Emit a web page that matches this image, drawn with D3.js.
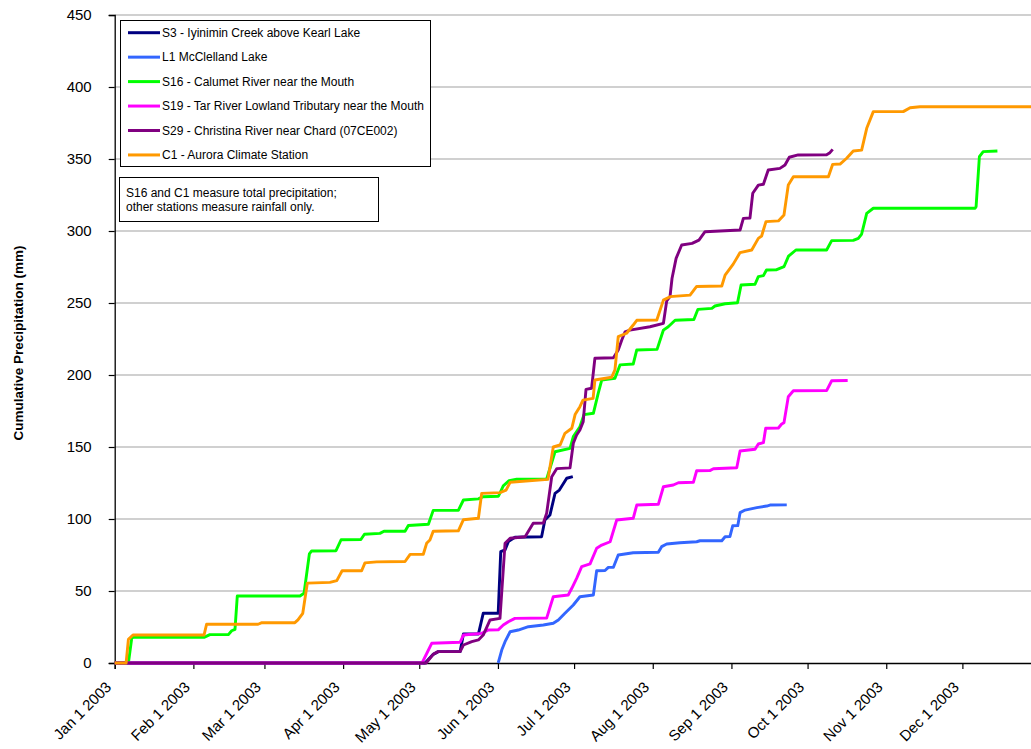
<!DOCTYPE html>
<html><head><meta charset="utf-8">
<script src="https://cdn.jsdelivr.net/npm/d3@7/dist/d3.min.js"></script>
<style>
body{margin:0;background:#fff}
svg{display:block}
text{font-family:"Liberation Sans",Arial,Helvetica,sans-serif;fill:#000}
</style>
</head><body>
<svg id="chart" width="1031" height="749"></svg>
<script>
// ---- data: [day of year 2003 (0 = Jan 1), cumulative precipitation mm]
const yTickValues = [0,50,100,150,200,250,300,350,400,450];
const xTickLabels = ["Jan 1 2003","Feb 1 2003","Mar 1 2003","Apr 1 2003","May 1 2003","Jun 1 2003","Jul 1 2003","Aug 1 2003","Sep 1 2003","Oct 1 2003","Nov 1 2003","Dec 1 2003"];
const seriesNames = ["S3 - Iyinimin Creek above Kearl Lake","L1 McClelland Lake","S16 - Calumet River near the Mouth","S19 - Tar River Lowland Tributary near the Mouth","S29 - Christina River near Chard (07CE002)","C1 - Aurora Climate Station"];
const seriesColors = ["#000080","#3366ff","#00ff00","#ff00ff","#800080","#ff9900"];
const noteLines = ["S16 and C1 measure total precipitation;","other stations measure rainfall only."];

const s3 = [[0,0],[122.3,0],[125.5,6],[127.5,7.9],[136.1,7.9],[137.4,20.1],[143.3,20.1],[145.2,34.5],[151.1,34.5],[152.1,77.3],[153.8,78.5],[155.1,84.3],[157.7,87.3],[168.2,87.7],[169.5,99.3],[171.5,102.8],[173.5,117.8],[175.2,120.1],[178.1,128.3],[180.5,129.4]];
const l1 = [[151.1,0],[152.5,9],[153.8,14.8],[155.8,21.7],[159,22.9],[163,25.2],[168.9,26.4],[172.8,27.6],[174.8,29.9],[177.4,34.5],[180.7,40.3],[183.3,46],[188.6,47.2],[189.9,64.1],[193.2,64.2],[194.5,66.4],[196.5,66.5],[198.4,75],[204.3,76.6],[214.2,76.9],[215.5,80.8],[217.5,82.6],[222.7,83.5],[229.3,84.2],[230.6,84.9],[239.2,84.9],[240.5,87.7],[242.4,87.8],[243.5,95.3],[245.5,95.4],[246.4,104.4],[248.4,106.2],[253,107.9],[256.9,109],[258.2,109.7],[264.8,109.8]];
const s16 = [[0,0],[5.4,0],[6.7,17.1],[7.2,17.8],[35.2,17.8],[37.5,19.7],[44.8,19.7],[46.1,22.4],[47.4,23.4],[48.3,46.5],[73,46.5],[74.6,48.4],[76.7,75.7],[77.6,77.8],[87.2,78],[89.2,85.6],[97,85.8],[98.4,89.4],[104.5,90],[106.1,91.5],[114.4,91.5],[115.7,95.5],[123.6,96.4],[125.5,106],[135.4,106],[137.4,113.2],[143.3,114],[145.2,115.5],[151.2,115.8],[153.1,123],[155.4,126.6],[158.4,127.6],[170.2,127.8],[173.5,146.7],[179.4,149.1],[180.7,157.2],[183.3,164.1],[184.9,172.5],[188.6,173.4],[190.5,187.3],[191.9,196.5],[197.1,197.7],[199.1,207],[204.3,207.6],[205.7,217.4],[213.7,217.8],[216.2,231.2],[218.1,233.5],[220.8,238],[228.2,238.5],[229.8,245.6],[235.3,246.3],[236.5,247.9],[240.5,249.5],[245.4,250.2],[246.8,262.5],[252.3,263],[253.6,268.3],[255.6,269],[256.8,272.9],[260.6,273],[263.7,275.2],[265.5,282.5],[268.4,286.8],[280.5,286.8],[282.5,293.3],[291,293.5],[293,294.9],[294.3,297.9],[296.3,312.3],[298.9,315.8],[339,315.8],[339.4,316.9],[340.7,351.6],[342.2,355.1],[347.8,355.6]];
const s19 = [[0,0],[121.1,0],[124.9,13.7],[136.1,14.4],[137.4,19.4],[144.6,20.6],[147.2,22.9],[151.1,23],[153.1,26.4],[155.1,28.7],[157.7,31],[170.2,31.2],[172.8,46],[178.7,47.2],[180.1,51.9],[182,58.8],[184,66.9],[187.3,68.8],[189.9,79.7],[191.9,81.9],[195.2,84.2],[197.8,99.3],[204.3,100.5],[205.7,109.7],[214.2,110.2],[216.2,122.4],[220.1,123.6],[222.1,125.2],[228,125.5],[229.3,133.5],[234.5,133.6],[235.9,134.9],[245.1,135.6],[246.4,147.2],[252.3,148.4],[253.6,152.1],[255.6,153],[256.5,163],[261.5,163.2],[262.8,166],[263.7,166.9],[265.4,184.9],[267.4,189.1],[280.5,189.2],[282.5,196],[288.8,196.2]];
const s29 = [[0,0],[122.7,0],[125.5,6],[127.4,7.9],[136.1,7.9],[137.4,12.5],[140.7,14.8],[143.3,16],[145.2,19.4],[147.9,29.9],[151.8,31],[153.8,83.1],[155.8,86.6],[161.7,87.7],[164.9,97],[168.9,97.2],[170.2,104],[172.2,129.4],[174.2,135],[179.4,135.5],[180.7,152.6],[182,158.3],[183.3,161.8],[184.6,167.6],[185.7,190],[187.9,190.8],[189.2,211.6],[196.5,212],[198.4,217.4],[199.8,224.3],[201.1,230],[203,231.2],[210.9,233.5],[216.2,235.9],[217.5,251.5],[218.8,254.4],[219.6,267.2],[221.2,281],[223.4,290.3],[227.5,291.4],[230.2,293.7],[232.6,299.5],[246.4,300.7],[247.7,308.8],[250.3,309],[251.4,326.2],[253.6,331.9],[255.6,332.5],[257.5,342.4],[262.1,343.5],[264.1,345.8],[265.8,351.2],[269.3,352.8],[280.5,353],[281.8,354.4],[282.9,356.7]];
const c1 = [[0,0],[4.5,0],[5.4,16.4],[7.2,19.4],[35.2,19.4],[36.2,26.9],[56.5,26.9],[58,28],[71,28],[72.2,29.9],[74.1,34.5],[75.9,55.5],[84.8,56],[87.5,57.2],[89.6,64.1],[97.3,64.1],[98.6,69.5],[103.2,70.2],[114.4,70.5],[116.4,75.4],[121.6,75.5],[122.9,83.1],[124.2,85.4],[125.5,91.5],[135.4,91.8],[137.4,99.5],[143.3,100.5],[144.6,117.8],[151.8,118.3],[154.2,120],[155.8,125.5],[170.7,127.5],[172.8,150],[175.5,151.4],[177.4,159.5],[180.1,163],[181.4,172.5],[183.3,178],[184.5,182.6],[188.5,183.8],[189.2,196.5],[195.8,198.4],[197.1,203.5],[198.4,226.6],[201.7,229],[204.3,234.7],[205.7,238],[213.6,238.2],[216.2,252],[218.8,254.4],[226.7,255.5],[229.3,261.5],[239.2,261.8],[240.5,269.4],[243.7,277],[246.4,285],[251,286.8],[253.6,294.9],[254.9,296.5],[256.6,306.5],[261.5,307],[263.7,311.1],[265.4,331.9],[267.4,337.7],[281.2,337.7],[282.9,346.3],[285.8,346.5],[288.4,350.5],[291,355.6],[294.3,356.2],[296.3,371.3],[298.9,382.9],[310.7,382.9],[313.4,385.6],[317.3,386.3],[364,386.3]];
const allSeries = [s3,l1,s16,s19,s29,c1];

// ---- layout
const W = 1031;
const plotLeft = 114.7, plotTop = 15, plotBottom = 663;
const t0 = Date.UTC(2003,0,1), t1 = Date.UTC(2004,0,1);
const toDate = d => new Date(t0 + d*86400000);

const svg = d3.select("#chart");
const x = d3.scaleUtc().domain([new Date(t0), new Date(t1)]).range([plotLeft, plotLeft + 365*2.538]);
const y = d3.scaleLinear().domain([0,450]).range([plotBottom, plotTop]);

// gridlines
svg.append("g").selectAll("line").data(yTickValues.filter(v=>v>0)).join("line")
  .attr("x1", plotLeft).attr("x2", W).attr("y1", d=>y(d)).attr("y2", d=>y(d))
  .attr("stroke","#c0c0c0").attr("stroke-width",1.5);

// y axis
const yAxis = svg.append("g").attr("transform",`translate(${plotLeft},0)`)
  .call(d3.axisLeft(y).tickValues(yTickValues).tickSize(6).tickPadding(17));
yAxis.select(".domain").attr("stroke","#000").attr("stroke-width",1.3);
yAxis.selectAll(".tick line").attr("stroke","#000").attr("stroke-width",1.2);
yAxis.selectAll(".tick text").attr("font-size",15).attr("fill","#000")
  .style("font-family",'"Liberation Sans",Arial,sans-serif');

// x axis
const monthDates = d3.utcMonth.range(new Date(t0), new Date(Date.UTC(2003,11,2)));
const xAxis = svg.append("g").attr("transform",`translate(0,${plotBottom})`)
  .call(d3.axisBottom(x).tickValues(monthDates).tickSize(6).tickFormat((d,i)=>xTickLabels[i]));
xAxis.select(".domain").attr("stroke","#000").attr("stroke-width",1.3);
xAxis.selectAll(".tick line").attr("stroke","#000").attr("stroke-width",1.2);
xAxis.selectAll(".tick text").attr("font-size",15).attr("fill","#000")
  .style("font-family",'"Liberation Sans",Arial,sans-serif')
  .attr("text-anchor","end").attr("dy",null).attr("y",null)
  .attr("transform","translate(-3,25) rotate(-45)");

// y title
svg.append("text").attr("transform",`translate(23,343) rotate(-90)`)
  .attr("text-anchor","middle").attr("font-size",13.5).attr("font-weight","bold")
  .text("Cumulative Precipitation (mm)");

// lines
const line = d3.line().x(d=>x(toDate(d[0]))).y(d=>y(d[1]));
svg.append("g").selectAll("path").data(allSeries).join("path")
  .attr("d", line).attr("fill","none")
  .attr("stroke",(d,i)=>seriesColors[i]).attr("stroke-width",2.9)
  .attr("stroke-linejoin","round").attr("stroke-linecap","butt");

// legend
const lg = svg.append("g");
lg.append("rect").attr("x",120.5).attr("y",20.5).attr("width",310).attr("height",146)
  .attr("fill","#fff").attr("stroke","#000").attr("stroke-width",1);
const items = lg.selectAll("g.it").data(seriesNames).join("g").attr("class","it")
  .attr("transform",(d,i)=>`translate(0,${32.7 + i*24.45})`);
items.append("line").attr("x1",128).attr("x2",160).attr("y1",0).attr("y2",0)
  .attr("stroke",(d,i)=>seriesColors[i]).attr("stroke-width",3);
items.append("text").attr("x",162).attr("y",4.3).attr("font-size",12).text(d=>d);

// note box
const nb = svg.append("g");
nb.append("rect").attr("x",119.5).attr("y",177.5).attr("width",259).attr("height",44)
  .attr("fill","#fff").attr("stroke","#000").attr("stroke-width",1);
nb.selectAll("text").data(noteLines).join("text")
  .attr("x",126).attr("y",(d,i)=>197.3 + i*13.7).attr("font-size",12).text(d=>d);
</script>
</body></html>
